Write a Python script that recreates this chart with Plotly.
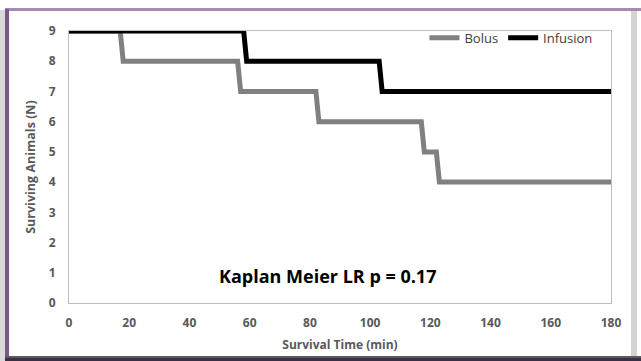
import plotly.graph_objects as go

bolus_t = [0, 17, 18, 56, 57, 82, 83, 117, 118, 122, 123, 180]
bolus_n = [9, 9, 8, 8, 7, 7, 6, 6, 5, 5, 4, 4]
infusion_t = [0, 58, 59, 103, 104, 180]
infusion_n = [9, 9, 8, 8, 7, 7]
x_ticks = [0, 20, 40, 60, 80, 100, 120, 140, 160, 180]
y_ticks = [0, 1, 2, 3, 4, 5, 6, 7, 8, 9]

FONT = "Open Sans"

fig = go.Figure()
fig.add_trace(go.Scatter(x=bolus_t, y=bolus_n, mode="lines", name="Bolus",
                         line=dict(color="#808080", width=5)))
fig.add_trace(go.Scatter(x=infusion_t, y=infusion_n, mode="lines", name="Infusion",
                         line=dict(color="#000000", width=5)))

fig.update_layout(
    width=641, height=361,
    margin=dict(l=69, r=30, t=31, b=58),
    paper_bgcolor="white", plot_bgcolor="white",
    font=dict(family=FONT, color="#595959"),
    legend=dict(orientation="h", x=0.975, y=1.03, xanchor="right", yanchor="top",
                font=dict(size=13, color="#404040", family=FONT),
                bgcolor="rgba(0,0,0,0)", itemwidth=30, tracegroupgap=0),
    showlegend=True,
)
fig.update_xaxes(range=[0, 180], tickvals=x_ticks, showgrid=False, zeroline=False,
                 showline=True, linecolor="#bfbfbf", linewidth=1, mirror=True,
                 ticks="", ticklabelstandoff=9,
                 tickfont=dict(size=12, family=FONT, color="#595959", weight="bold"),
                 title=dict(text="Survival Time (min)", standoff=10,
                            font=dict(size=12, family=FONT, color="#595959", weight="bold")))
fig.update_yaxes(range=[0, 9], tickvals=y_ticks, showgrid=False, zeroline=False,
                 showline=True, linecolor="#bfbfbf", linewidth=1, mirror=True,
                 ticks="", ticklabelstandoff=10,
                 tickfont=dict(size=12, family=FONT, color="#595959", weight="bold"),
                 title=dict(text="Surviving Animals (N)", standoff=10,
                            font=dict(size=12.5, family=FONT, color="#595959", weight="bold")))

fig.add_annotation(text="Kaplan Meier LR p = 0.17", xref="x", yref="y", x=85.7, y=0.89,
                   showarrow=False, font=dict(size=18, color="#000000", family=FONT, weight="bold"))

# frame around the picture
W, H = 641, 361
def rect(x0, y0, x1, y1, color):
    fig.add_shape(type="rect", xref="paper", yref="paper", layer="above",
                  x0=(x0 - 69) / (W - 99), x1=(x1 - 69) / (W - 99),
                  y0=(H - 58 - y1) / (H - 89), y1=(H - 58 - y0) / (H - 89),
                  fillcolor=color, line=dict(width=0))

rect(0, 10, 5, 361, "#d9d9d9")
rect(5, 8, 641, 11, "#a58bb0")
rect(5, 9, 9, 358, "#7b5a88")
rect(631, 11, 637, 356, "#d4d4d4")
rect(5, 356, 641, 358, "#5b5b5b")
rect(5, 358, 641, 361, "#3c2f45")

fig.write_html("out.html")
